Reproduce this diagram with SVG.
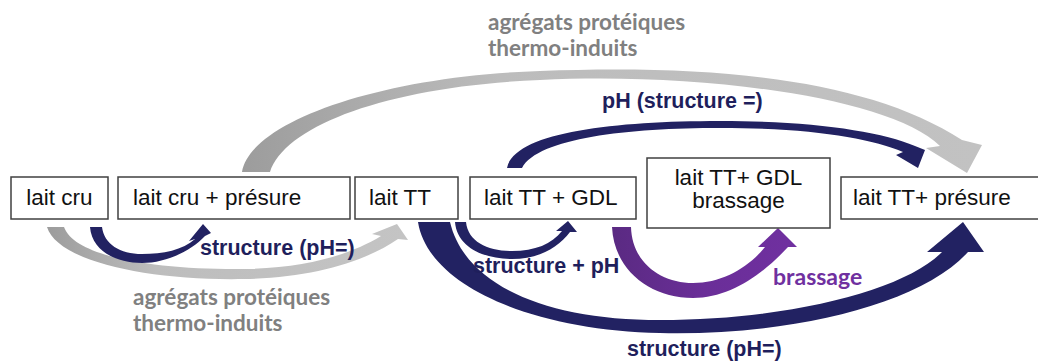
<svg xmlns="http://www.w3.org/2000/svg" width="1038" height="363" viewBox="0 0 1038 363">
<style>
.box{fill:#fff;stroke:#404040;stroke-width:1.5}
.bt{font-family:"Liberation Sans",Arial,sans-serif;font-size:22.5px;fill:#111}
.nl{font-family:"Liberation Sans",Arial,sans-serif;font-size:21.5px;font-weight:bold;fill:#1f1f5c}
.gl{font-family:Lato,"Open Sans",sans-serif;font-size:22.5px;font-weight:bold;fill:#808080}
.pl{font-family:Lato,"Open Sans",sans-serif;font-size:23px;font-weight:bold;fill:#7030a0}
.navy{fill:#222262}
</style>
<defs>
<linearGradient id="gTop" x1="240" y1="0" x2="980" y2="0" gradientUnits="userSpaceOnUse">
<stop offset="0" stop-color="#9c9c9c"/><stop offset="0.35" stop-color="#bcbcbc"/><stop offset="1" stop-color="#c2c2c2"/>
</linearGradient>
<linearGradient id="gBot" x1="47" y1="0" x2="408" y2="0" gradientUnits="userSpaceOnUse">
<stop offset="0" stop-color="#9c9c9c"/><stop offset="0.3" stop-color="#bdbdbd"/><stop offset="1" stop-color="#c4c4c4"/>
</linearGradient>
<linearGradient id="gPur" x1="612" y1="0" x2="797" y2="0" gradientUnits="userSpaceOnUse">
<stop offset="0" stop-color="#5a2a82"/><stop offset="0.5" stop-color="#6a2e98"/><stop offset="1" stop-color="#7030a0"/>
</linearGradient>
</defs>
<g id="connectors">
<path id="a-gray-top" fill="url(#gTop)" d="M242,172 C250,122 380,76 540,71 C720,64 870,80 962,140 L982,145 L967,173 L926,148 L940,146 C890,97 700,72 540,80 C390,86 285,125 270,172 Z"/>
<path id="a-navy-top" class="navy" d="M507,168 C514,133 610,121 720,121 C810,121 880,131 915,146 L925,150 L918,168 L896,155 L903,152 C870,138 810,128 720,128 C628,128 538,138 522,168 Z"/>
<path id="a-gray-bot" fill="url(#gBot)" d="M47,227 C58,262 150,281 245,279 C310,278 365,262 398,239 L408,240 L397,224 L372,234 L381,236 C350,255 305,268 245,269 C160,270 75,258 64,227 Z"/>
<path id="a-navy-small1" class="navy" d="M90,227 C92,252 118,263 142,263 C165,263 190,252 205,236 L211,233 L203,224 L189,241 L195,239 C183,250 163,254 142,254 C120,254 104,244 102,227 Z"/>
<path id="a-navy-big" class="navy" d="M418,222 C428,285 530,330 660,333 C790,336 920,305 968,252 L984,252 L963,222 L927,252 L942,252 C905,290 790,320 660,320 C545,320 465,285 450,222 Z"/>
<path id="a-navy-small2" class="navy" d="M455,222 C457,248 485,259 512,259 C538,259 558,248 570,232 L577,232 L568,221 L556,231 L562,231 C552,244 535,251 512,251 C488,251 468,242 466,222 Z"/>
<path id="a-purple" fill="url(#gPur)" d="M612,227 C614,270 650,298 693,298 C730,298 762,275 788,247 L797,247 L778,228 L758,247 L765,247 C748,268 722,283 693,283 C660,283 632,262 631,227 Z"/>
</g>
<g id="n-lait-cru"><rect class="box" x="11" y="177" width="97" height="42"/><text class="bt" x="59.5" y="205" text-anchor="middle">lait cru</text></g>
<g id="n-lait-cru-presure"><rect class="box" x="118" y="177" width="232" height="42"/><text class="bt" x="133" y="205">lait cru + présure</text></g>
<g id="n-lait-tt"><rect class="box" x="355" y="177" width="103" height="42"/><text class="bt" x="369" y="205">lait TT</text></g>
<g id="n-lait-tt-gdl"><rect class="box" x="470" y="177" width="166" height="42"/><text class="bt" x="484" y="205">lait TT + GDL</text></g>
<g id="n-lait-tt-gdl-brassage"><rect class="box" x="647" y="158" width="183" height="70"/><text class="bt" text-anchor="middle"><tspan x="738.5" y="185">lait TT+ GDL</tspan><tspan x="738.5" y="208">brassage</tspan></text></g>
<g id="n-lait-tt-presure"><rect class="box" x="841" y="177" width="200" height="42"/><text class="bt" x="853" y="205">lait TT+ présure</text></g>
<g id="labels">
<text class="gl"><tspan x="488" y="30">agrégats protéiques</tspan><tspan x="488" y="56">thermo-induits</tspan></text>
<text class="nl" x="602" y="108">pH (structure =)</text>
<text class="nl" x="200" y="255">structure (pH=)</text>
<text class="nl" x="473" y="273">structure + pH</text>
<text class="pl" x="773" y="285">brassage</text>
<text class="gl"><tspan x="133" y="305">agrégats protéiques</tspan><tspan x="133" y="331">thermo-induits</tspan></text>
<text class="nl" x="627" y="356">structure (pH=)</text>
</g>
</svg>
